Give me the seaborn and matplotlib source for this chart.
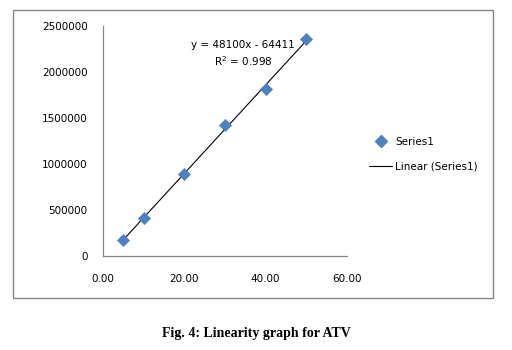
import matplotlib
matplotlib.use("Agg")
import matplotlib.pyplot as plt
import seaborn as sns
import numpy as np
import pandas as pd
from matplotlib.patches import Rectangle
from matplotlib.lines import Line2D

# Data
conc = [5, 10, 20, 30, 40, 50]
area = [172000, 418000, 895000, 1424000, 1812000, 2357000]
slope = 48100
intercept = -64411
r2_text = "0.998"
x_ticks = [0, 20, 40, 60]
y_ticks = [0, 500000, 1000000, 1500000, 2000000, 2500000]
caption = "Fig. 4: Linearity graph for ATV"

df = pd.DataFrame({"conc": conc, "area": area})
df["fit"] = slope * df["conc"] + intercept

sns.set_style("white")
plt.rcParams["font.family"] = ["DejaVu Sans"]
plt.rcParams["text.color"] = "black"

fig = plt.figure(figsize=(5.12, 3.5), dpi=100)
fig.patch.set_facecolor("white")

# outer chart border
fig.add_artist(Rectangle((13 / 512, 1 - 298 / 350), 480 / 512, 288 / 350,
                         transform=fig.transFigure, fill=False,
                         edgecolor="#868686", linewidth=1.0))

ax = fig.add_axes([103 / 512, 1 - 256 / 350, 244 / 512, 230 / 350])

sns.lineplot(data=df, x="conc", y="fit", ax=ax, color="black", linewidth=0.8,
             label="Linear (Series1)", legend=False)
sns.scatterplot(data=df, x="conc", y="area", ax=ax, marker="D", s=38,
                color="#4F81BD", edgecolor="#4F81BD", linewidth=0.5,
                label="Series1", legend=False, zorder=3)

ax.set_xlim(0, 60)
ax.set_ylim(0, 2500000)
ax.set_xticks(x_ticks)
ax.set_xticklabels([f"{v:.2f}" for v in x_ticks])
ax.set_yticks(y_ticks)
ax.set_yticklabels([str(v) for v in y_ticks])
ax.set_xlabel("")
ax.set_ylabel("")
for s in ["top", "right"]:
    ax.spines[s].set_visible(False)
for s in ["left", "bottom"]:
    ax.spines[s].set_color("#868686")
    ax.spines[s].set_linewidth(0.9)
ax.tick_params(axis="both", direction="out", length=4, width=0.9,
               color="#868686", labelsize=7.5, labelcolor="black", pad=6)
ax.tick_params(axis="x", pad=9)
ax.tick_params(axis="y", pad=7)

ax.text(243 / 512, 1 - 45 / 350,
        f"y = {slope}x - {abs(intercept)}", transform=fig.transFigure,
        ha="center", va="center", fontsize=7.5, color="black")
ax.text(243 / 512, 1 - 61 / 350,
        f"R$^2$ = {r2_text}", transform=fig.transFigure,
        ha="center", va="center", fontsize=7.5, color="black")

handles = [Line2D([0], [0], marker="D", linestyle="none", color="#4F81BD",
                  markersize=6),
           Line2D([0], [0], color="black", linewidth=0.8)]
fig.legend(handles, ["Series1", "Linear (Series1)"], loc="center left",
           bbox_to_anchor=(360 / 512, 1 - 154 / 350), frameon=False,
           fontsize=7.5, handlelength=2.2, handletextpad=0.3,
           labelspacing=1.4, labelcolor="black")

fig.text(0.5, 1 - 334 / 350, caption, ha="center", va="center",
         fontsize=10, fontweight="bold", color="black",
         family=["Liberation Serif", "DejaVu Serif"])

fig.savefig("out.png", dpi=100)
